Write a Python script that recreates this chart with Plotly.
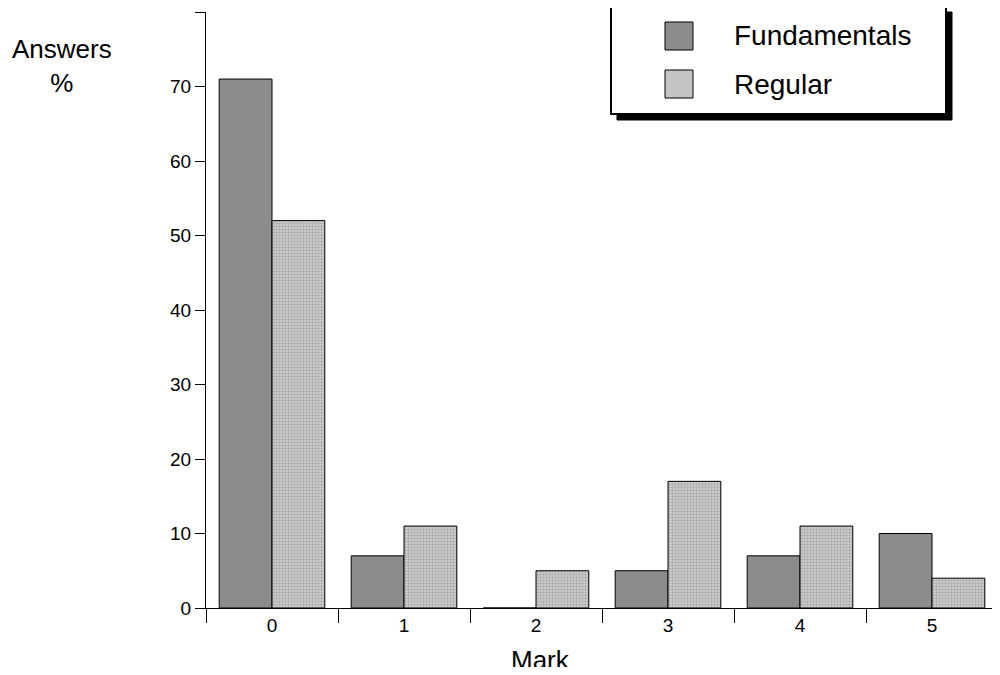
import plotly.graph_objects as go

marks = ["0", "1", "2", "3", "4", "5"]
fundamentals = [71, 7, 0, 5, 7, 10]
regular = [52, 11, 5, 17, 11, 4]

fig = go.Figure()
fig.add_trace(go.Bar(x=marks, y=fundamentals, name="Fundamentals",
                     marker=dict(color="#8c8c8c", line=dict(color="black", width=1))))
fig.add_trace(go.Bar(x=marks, y=regular, name="Regular",
                     marker=dict(color="#d0d0d0", line=dict(color="black", width=1),
                                 pattern=dict(shape=".", fgcolor="#8a8a8a", size=3, solidity=0.5))))

font = dict(family="Liberation Sans, Arial", size=19, color="black")
# page body adds 8px margin, so the figure is a bit smaller than the window
fig.update_layout(
    width=992, height=659, barmode="group", bargap=0.2, bargroupgap=0,
    plot_bgcolor="white", paper_bgcolor="white", showlegend=False,
    margin=dict(l=198, r=2, t=4, b=59), font=font,
    xaxis=dict(type="category", tickson="boundaries", ticks="outside", ticklen=14,
               tickcolor="black", showline=True, linecolor="black", showgrid=False,
               tickfont=font),
    yaxis=dict(range=[0, 80], dtick=10, ticks="outside", ticklen=10, tickcolor="black",
               showline=True, linecolor="black", showgrid=False, zeroline=False,
               tickfont=font),
)

# legend box with drop shadow, drawn by hand
box = dict(x0=611, x1=946, y0=6, y1=114)
fig.add_shape(type="rect", xref="paper", yref="paper",
              x0=(box["x0"] + 6 - 206) / 792, x1=(box["x1"] + 6 - 206) / 792,
              y0=1 - (box["y1"] + 6 - 12) / 596, y1=1 - (box["y0"] + 6 - 12) / 596,
              fillcolor="black", line=dict(color="black", width=1))
fig.add_shape(type="rect", xref="paper", yref="paper",
              x0=(box["x0"] - 206) / 792, x1=(box["x1"] - 206) / 792,
              y0=1 - (box["y1"] - 12) / 596, y1=1 - (box["y0"] - 12) / 596,
              fillcolor="white", line=dict(color="black", width=2))
for i, (name, col) in enumerate([("Fundamentals", "#8c8c8c"), ("Regular", "#c4c4c4")]):
    yc = 36 + i * 48
    fig.add_shape(type="rect", xref="paper", yref="paper",
                  x0=(665 - 206) / 792, x1=(693 - 206) / 792,
                  y0=1 - (yc + 14 - 12) / 596, y1=1 - (yc - 14 - 12) / 596,
                  fillcolor=col, line=dict(color="black", width=1))
    fig.add_annotation(text=name, xref="paper", yref="paper",
                       x=(732 - 206) / 792, y=1 - (yc - 12) / 596,
                       xanchor="left", yanchor="middle", showarrow=False,
                       font=dict(family="Liberation Sans, Arial", size=28, color="black"))

fig.add_annotation(text="Answers<br>%", xref="paper", yref="paper",
                   x=(62 - 206) / 792, y=1 - (66 - 12) / 596, xanchor="center",
                   yanchor="middle", showarrow=False,
                   font=dict(family="Liberation Sans, Arial", size=26, color="black"))
fig.add_annotation(text="Mark", xref="paper", yref="paper",
                   x=(540 - 206) / 792, y=1 - (660 - 12) / 596, xanchor="center",
                   yanchor="middle", showarrow=False,
                   font=dict(family="Liberation Sans, Arial", size=26, color="black"))

fig.write_html("out.html")
